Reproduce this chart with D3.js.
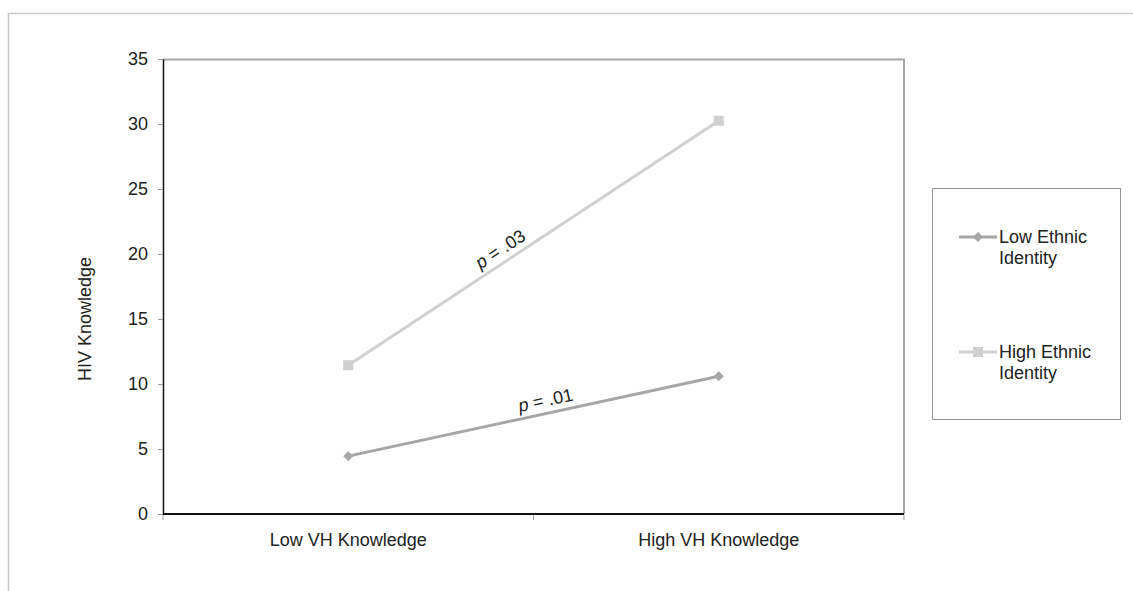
<!DOCTYPE html>
<html>
<head>
<meta charset="utf-8">
<script src="https://cdn.jsdelivr.net/npm/d3@7"></script>
<style>
  body { margin: 0; background: #fff; }
  svg text { font-family: "Liberation Sans", Arial, sans-serif; fill: #222; }
</style>
</head>
<body>
<div id="chart"></div>
<script>
var categories = ["Low VH Knowledge", "High VH Knowledge"];
var seriesNames = ["Low Ethnic Identity", "High Ethnic Identity"];
var lowEthnic = [4.45, 10.6];
var highEthnic = [11.45, 30.25];
var pLabels = ["p = .01", "p = .03"];
var yTicks = [0, 5, 10, 15, 20, 25, 30, 35];

var width = 1133, height = 591;
var margin = { top: 59, right: 229, bottom: 77, left: 163 };
var mwidth = width - margin.left - margin.right;
var mheight = height - margin.top - margin.bottom;
var fs = "18px";

var series = [
    { name: seriesNames[0], values: lowEthnic, color: "#a6a6a6", shape: "diamond", p: pLabels[0], at: 0.54 },
    { name: seriesNames[1], values: highEthnic, color: "#d0d0d0", shape: "square", p: pLabels[1], at: 0.43 }
];

var svg = d3.select("#chart").append("svg")
    .attr("width", width)
    .attr("height", height);

// outer frame
svg.append("path")
    .attr("d", "M8.5," + height + "V13.5H" + width)
    .attr("fill", "none")
    .attr("stroke", "#c8c8c8")
    .attr("stroke-width", 1.5);

var g = svg.append("g")
    .attr("transform", "translate(" + margin.left + "," + margin.top + ")");

var x = d3.scalePoint()
    .domain(categories)
    .range([0, mwidth])
    .padding(0.5);

var xBand = d3.scaleBand()
    .domain(categories)
    .range([0, mwidth]);

var y = d3.scaleLinear()
    .domain([0, 35])
    .range([mheight, 0]);

// plot area top / right border
g.append("path")
    .attr("d", "M0,0.5H" + mwidth + "V" + mheight)
    .attr("fill", "none")
    .attr("stroke", "#a8a8a8")
    .attr("stroke-width", 2);

// Y axis
var yAxis = d3.axisLeft(y)
    .tickValues(yTicks)
    .tickSizeInner(5)
    .tickSizeOuter(0)
    .tickPadding(10);

var ya = g.append("g").call(yAxis);
ya.select(".domain").attr("stroke", "#111").attr("stroke-width", 1.5);
ya.selectAll(".tick line").attr("stroke", "#999");
ya.selectAll(".tick text").style("font-size", fs).attr("fill", "#222");

// X axis: ticks between categories
var xEdges = [0].concat(categories.map(function(c) { return xBand(c) + xBand.bandwidth(); }));
var xa = g.append("g").attr("transform", "translate(0," + mheight + ")");
xa.append("line")
    .attr("x1", 0).attr("x2", mwidth)
    .attr("stroke", "#111").attr("stroke-width", 2);
xa.selectAll(".edge").data(xEdges).enter().append("line")
    .attr("x1", function(d) { return d; })
    .attr("x2", function(d) { return d; })
    .attr("y1", 1).attr("y2", 6)
    .attr("stroke", "#999");
xa.selectAll(".lab").data(categories).enter().append("text")
    .attr("x", function(d) { return x(d); })
    .attr("y", 32)
    .attr("text-anchor", "middle")
    .style("font-size", fs)
    .text(function(d) { return d; });

// Y axis label
svg.append("text")
    .attr("transform", "translate(91,319) rotate(-90)")
    .attr("text-anchor", "middle")
    .style("font-size", fs)
    .text("HIV Knowledge");

var line = d3.line()
    .x(function(d, i) { return x(categories[i]); })
    .y(function(d) { return y(d); });

function drawMarker(sel, shape, color) {
    if (shape === "square") {
        sel.append("rect")
            .attr("x", -5).attr("y", -5)
            .attr("width", 10).attr("height", 10)
            .attr("fill", color);
    } else {
        sel.append("path")
            .attr("d", "M0,-5L5,0L0,5L-5,0Z")
            .attr("fill", color);
    }
}

series.forEach(function(s) {
    g.append("path")
        .datum(s.values)
        .attr("d", line)
        .attr("fill", "none")
        .attr("stroke", s.color)
        .attr("stroke-width", 3);

    s.values.forEach(function(v, i) {
        var m = g.append("g")
            .attr("transform", "translate(" + x(categories[i]) + "," + y(v) + ")");
        drawMarker(m, s.shape, s.color);
    });

    // p label along the line
    var x0 = x(categories[0]), x1 = x(categories[1]);
    var y0 = y(s.values[0]), y1 = y(s.values[1]);
    var ang = Math.atan2(y1 - y0, x1 - x0) * 180 / Math.PI;
    var cx = x0 + (x1 - x0) * s.at, cy = y0 + (y1 - y0) * s.at;
    var txt = g.append("text")
        .attr("transform", "translate(" + cx + "," + cy + ") rotate(" + ang + ")")
        .attr("y", -7)
        .attr("text-anchor", "middle")
        .style("font-size", fs);
    txt.append("tspan").style("font-style", "italic").text(s.p.split(" ")[0]);
    txt.append("tspan").text(s.p.slice(1));
});

// legend
var lg = svg.append("g").attr("transform", "translate(932,188)");
lg.append("rect")
    .attr("x", 0.5).attr("y", 0.5)
    .attr("width", 188).attr("height", 231)
    .attr("fill", "#fff")
    .attr("stroke", "#999");

var legendY = d3.scalePoint()
    .domain(seriesNames)
    .range([49, 164]);

series.forEach(function(s) {
    var item = lg.append("g").attr("transform", "translate(0," + legendY(s.name) + ")");
    item.append("line")
        .attr("x1", 27).attr("x2", 65)
        .attr("stroke", s.color).attr("stroke-width", 3);
    var m = item.append("g").attr("transform", "translate(46,0)");
    drawMarker(m, s.shape, s.color);
    var words = s.name.split(" ");
    var t = item.append("text")
        .attr("x", 67).attr("y", 6)
        .style("font-size", fs);
    t.append("tspan").attr("x", 67).text(words[0] + " " + words[1]);
    t.append("tspan").attr("x", 67).attr("dy", 21).text(words[2]);
});
</script>
</body>
</html>
